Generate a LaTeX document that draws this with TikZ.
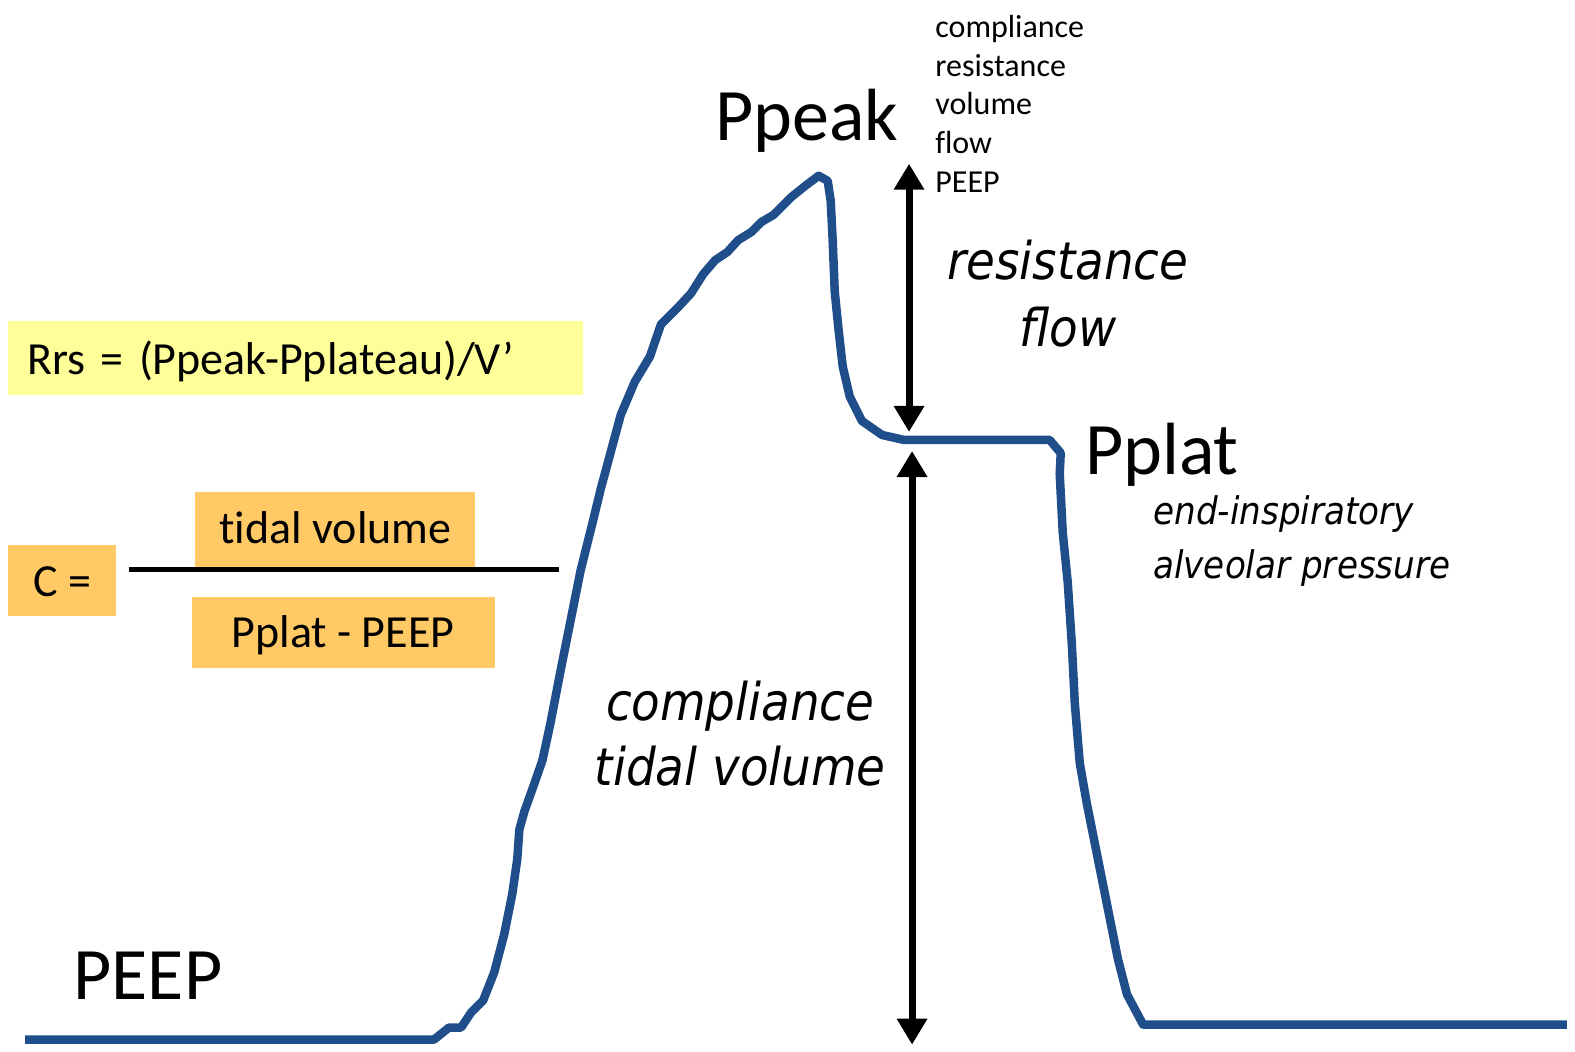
\documentclass[tikz,border=0pt]{standalone}
\usepackage{fontspec}
\setmainfont{Carlito}[Ligatures=NoCommon]
\newfontfamily\slfont{DejaVu Sans Condensed}
\usetikzlibrary{arrows.meta}
\definecolor{wave}{RGB}{31,78,138}
\definecolor{rrsfill}{RGB}{255,255,153}
\definecolor{cfill}{RGB}{255,201,102}

\begin{document}
\begin{tikzpicture}[x=1.0045pt,y=-1.0045pt,
	biglbl/.style={font=\fontsize{74}{80}\selectfont, anchor=base west, inner sep=0},
	listlbl/.style={font=\fontsize{32}{36}\selectfont, anchor=base west, inner sep=0},
	slantlbl/.style={font=\slfont\itshape\fontsize{52}{60}\selectfont, anchor=base, inner sep=0},
	formbox/.style={fill=cfill, font=\fontsize{46}{50}\selectfont, anchor=base, inner xsep=0, inner ysep=0},
	dblarrow/.style={line width=7pt, {Triangle[length=26pt,width=29pt]}-{Triangle[length=26pt,width=29pt]}}]
	\useasboundingbox (0,0) rectangle (1568,1047);
	\def\breath{ (25,1035) -- (432,1035) -- (447,1023) -- (459,1023) -- (469,1008) -- (481,996)
		-- (492,968) -- (502,930) -- (510,890) -- (515,855) -- (517,826) -- (522,808) -- (532,780)
		-- (540,757) -- (548,720) -- (558,668) -- (568,618) -- (578,568) -- (590,520) -- (598,487)
		-- (608,450) -- (618,413) -- (632,380) -- (647,355) -- (658,323) -- (675,306) -- (688,292)
		-- (700,273) -- (712,259) -- (724,251) -- (735,239) -- (748,231) -- (758,221) -- (770,214)
		-- (788,196) -- (803,184) -- (815,175) -- (824,180) -- (827,200) -- (829,240) -- (831,290)
		-- (835,330) -- (839,365) -- (846,395) -- (858,419) -- (878,433) -- (900,438) -- (1045,438)
		-- (1056,451) -- (1055,472) -- (1058,530) -- (1063,580) -- (1067,640) -- (1070,700)
		-- (1075,760) -- (1082,800) -- (1092,850) -- (1103,905) -- (1113,955) -- (1122,990)
		-- (1138,1020) -- (1560,1020) };

	% pressure trace
	\draw[wave, line width=8.5pt, line join=round] \breath;

	% formulas
	\node[fill=rrsfill, anchor=base west, text width=537pt, align=left, inner xsep=19pt, inner ysep=0,
		text height=54pt, text depth=20pt, font=\fontsize{46}{50}\selectfont] (rrs) at (8,373) {Rrs = (Ppeak-Pplateau)/V’};
	\node[formbox, minimum width=108pt, text height=52pt, text depth=19pt] (ceq) at (62,594) {C =};
	\node[formbox, minimum width=280pt, text height=51pt, text depth=25pt] (num) at (334,541) {tidal volume};
	\node[formbox, minimum width=303pt, text height=51pt, text depth=20pt] (den) at (341.5,645) {Pplat - PEEP};
	\coordinate (fracL) at (128,567);
	\coordinate (fracR) at (557,567);
	\draw[line width=5pt] (fracL) -- (fracR);

	% pressure labels
	\node[biglbl] (ppeak) at (712,140) {Ppeak};
	\node[biglbl] (pplat) at (1080,472) {Pplat};
	\node[biglbl] (peep) at (73,995) {PEEP};

	\node[listlbl] (l1) at (931,37) {compliance};
	\node[listlbl] (l2) at (931,76) {resistance};
	\node[listlbl] (l3) at (931,114) {volume};
	\node[listlbl] (l4) at (931,153) {flow};
	\node[listlbl] (l5) at (931,192) {PEEP};

	\node[slantlbl] (res) at (1063,278) {resistance};
	\node[slantlbl] (flw) at (1063,345) {flow};
	\node[slantlbl] (cmp) at (737,717) {compliance};
	\node[slantlbl] (tv) at (737,782) {tidal volume};
	\node[slantlbl, font=\slfont\itshape\fontsize{38}{40}\selectfont, anchor=base west] (ei) at (1148,522) {end-inspiratory};
	\node[slantlbl, font=\slfont\itshape\fontsize{38}{40}\selectfont, anchor=base west] (ap) at (1148,576) {alveolar pressure};

	% arrows
	\coordinate (peaklvl) at (905,163);
	\coordinate (platlvl) at (905,430);
	\coordinate (platlow) at (908,449);
	\coordinate (peeplvl) at (908,1040);
	\draw[dblarrow] (peaklvl) -- (platlvl);
	\draw[dblarrow] (platlow) -- (peeplvl);
\end{tikzpicture}
\end{document}
